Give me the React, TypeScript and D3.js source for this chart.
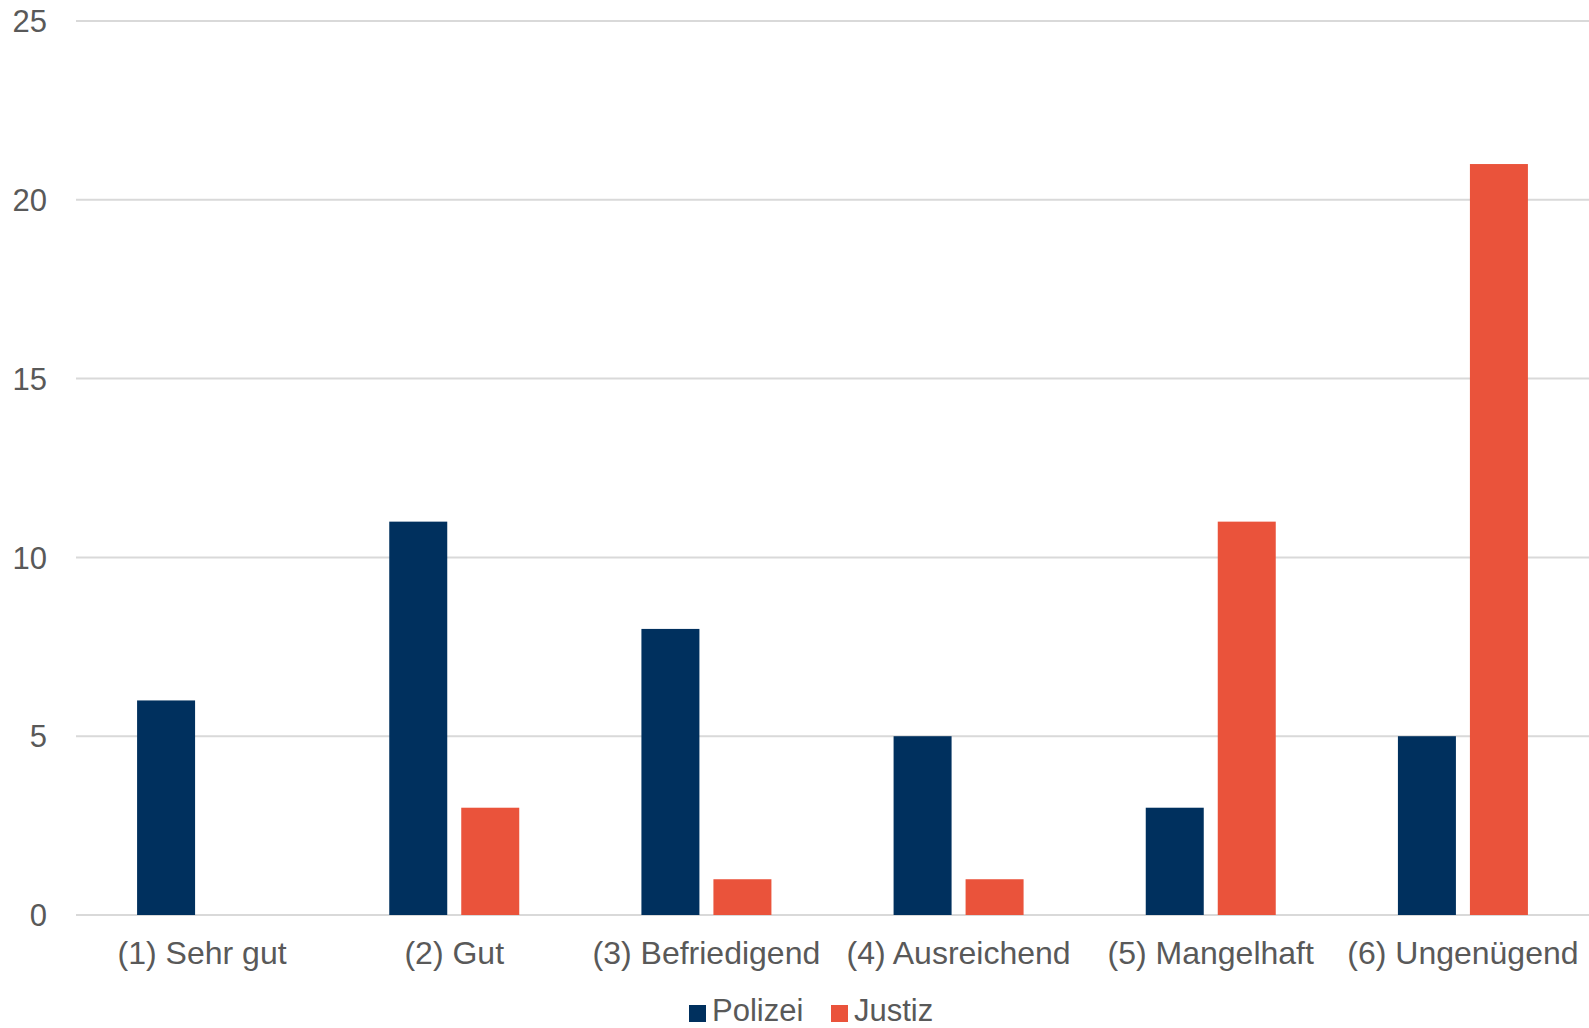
import React from "react";
import * as d3 from "d3";

const categories = [
  "(1) Sehr gut",
  "(2) Gut",
  "(3) Befriedigend",
  "(4) Ausreichend",
  "(5) Mangelhaft",
  "(6) Ungenügend",
];
const seriesNames = ["Polizei", "Justiz"];
const polizei = [6, 11, 8, 5, 3, 5];
const justiz = [0, 3, 1, 1, 11, 21];
const yTicks = [0, 5, 10, 15, 20, 25];
const colors = ["#00305E", "#EA533B"];

const W = 1589;
const H = 1028;
const FONT = "'Liberation Sans', Arial, sans-serif";
const TEXT = "#595959";

export default function App() {
  const x0 = d3.scaleBand().domain(categories).range([76, 1589]).padding(0);
  const groupW = 130;
  const x1 = d3
    .scaleBand()
    .domain(seriesNames)
    .range([x0.bandwidth() / 2 - groupW / 2, x0.bandwidth() / 2 + groupW / 2])
    .paddingInner(14 / 72)
    .paddingOuter(0);
  const y = d3.scaleLinear().domain([0, 25]).range([915, 21]);
  const values = [polizei, justiz];

  return (
    <svg
      width={W}
      height={H}
      style={{ position: "absolute", left: 0, top: 0, background: "#fff" }}
      fontFamily={FONT}
    >
      {yTicks.map((t) => (
        <g key={t}>
          <line x1={76} x2={1589} y1={y(t)} y2={y(t)} stroke="#D9D9D9" strokeWidth={2} />
          <text
            x={47}
            y={y(t)}
            dy="0.36em"
            textAnchor="end"
            fontSize={31}
            fill={TEXT}
          >
            {t}
          </text>
        </g>
      ))}
      {categories.map((c, i) => (
        <g key={c} transform={`translate(${x0(c)},0)`}>
          {seriesNames.map((s, k) =>
            values[k][i] > 0 ? (
              <rect
                key={s}
                x={x1(s)}
                width={x1.bandwidth()}
                y={y(values[k][i])}
                height={y(0) - y(values[k][i])}
                fill={colors[k]}
              />
            ) : null
          )}
          <text
            x={x0.bandwidth() / 2}
            y={964}
            textAnchor="middle"
            fontSize={32}
            fill={TEXT}
          >
            {c}
          </text>
        </g>
      ))}
      {seriesNames.map((s, k) => {
        const lx = [689, 831][k];
        return (
          <g key={s}>
            <rect x={lx} y={1005} width={17} height={17} fill={colors[k]} />
            <text x={lx + 23} y={1021} fontSize={31} fill={TEXT}>
              {s}
            </text>
          </g>
        );
      })}
    </svg>
  );
}
